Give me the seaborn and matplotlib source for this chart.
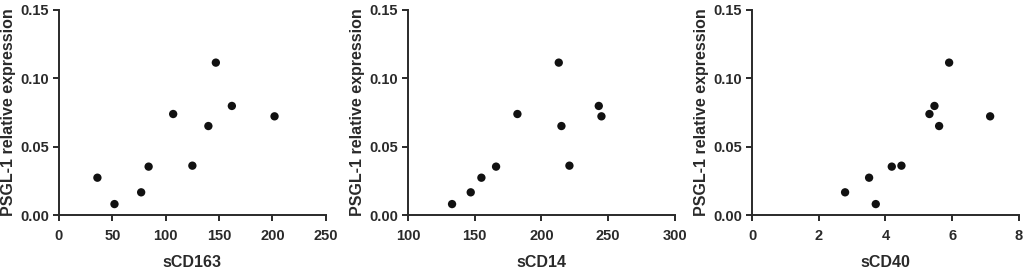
import matplotlib
matplotlib.use("Agg")
import matplotlib.pyplot as plt
import seaborn as sns
import pandas as pd

# PSGL-1 relative expression (same samples in each panel)
psgl1 = [0.0273, 0.0080, 0.0166, 0.0354, 0.0739, 0.0361, 0.0651, 0.1115, 0.0798, 0.0722]

# soluble markers, same sample order as psgl1
scd163 = [36, 52, 77, 84, 107, 125, 140, 147, 162, 202]
scd14 = [155, 133, 147, 166, 182, 221, 215, 213, 243, 245]
scd40 = [3.51, 3.71, 2.79, 4.19, 5.32, 4.48, 5.61, 5.91, 5.47, 7.14]

panels = [
    ("sCD163", scd163, (0, 250), [0, 50, 100, 150, 200, 250]),
    ("sCD14", scd14, (100, 300), [100, 150, 200, 250, 300]),
    ("sCD40", scd40, (0, 8), [0, 2, 4, 6, 8]),
]
y_ticks = [0.00, 0.05, 0.10, 0.15]

sns.set_style("ticks")
plt.rcParams["font.family"] = ["Liberation Sans", "DejaVu Sans"]
plt.rcParams["font.weight"] = "bold"

fig = plt.figure(figsize=(10.26, 2.71), dpi=100)
lefts = [0.0575, 0.3977, 0.733]

for left, (name, xs, xlim, xticks) in zip(lefts, panels):
    ax = fig.add_axes([left, 0.2066, 0.260, 0.7565])
    df = pd.DataFrame({name: xs, "PSGL-1": psgl1})
    sns.scatterplot(data=df, x=name, y="PSGL-1", ax=ax, s=36,
                    color="#111111", edgecolor="none", clip_on=False)
    ax.set_xlim(*xlim)
    ax.set_ylim(0, 0.15)
    ax.set_xticks(xticks)
    ax.set_yticks(y_ticks)
    ax.set_yticklabels([f"{t:.2f}" for t in y_ticks])
    ax.set_xlabel(name, fontsize=11.5, fontweight="bold", color="#2a2a2a", labelpad=9)
    ax.set_ylabel("PSGL-1 relative expression", fontsize=11.5, fontweight="bold",
                  color="#2a2a2a", labelpad=3)
    ax.tick_params(labelsize=10.5, width=1.4, length=4, colors="#2a2a2a")
    ax.tick_params(axis="x", pad=6)
    ax.tick_params(axis="y", pad=3)
    for lab in ax.get_xticklabels() + ax.get_yticklabels():
        lab.set_fontweight("bold")
    for side in ["left", "bottom"]:
        ax.spines[side].set_linewidth(1.4)
        ax.spines[side].set_color("#2a2a2a")
    sns.despine(ax=ax)

fig.savefig("out.png", dpi=100)
